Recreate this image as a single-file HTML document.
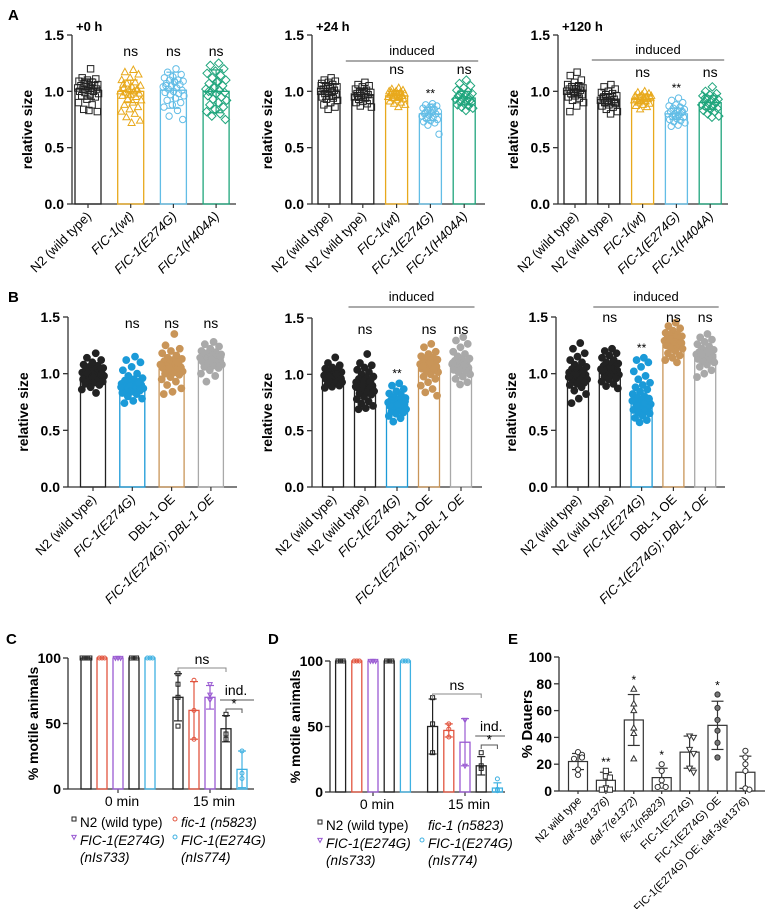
<!DOCTYPE html>
<html><head><meta charset="utf-8"><style>
html,body{margin:0;padding:0;background:#fff;}
svg{display:block;font-family:"Liberation Sans",Arial,sans-serif;}
</style></head><body>
<svg id="fig" width="767" height="909" viewBox="0 0 767 909" xmlns="http://www.w3.org/2000/svg">
<text x="8" y="20" font-size="15" font-weight="bold">A</text>
<text x="8" y="302" font-size="15" font-weight="bold">B</text>
<text x="6" y="644" font-size="15" font-weight="bold">C</text>
<text x="268" y="644" font-size="15" font-weight="bold">D</text>
<text x="508" y="644" font-size="15" font-weight="bold">E</text>
</svg>
<script>
// ---------- DATA ----------
const aLabels3 = ["N2 (wild type)","FIC-1(wt)","FIC-1(E274G)","FIC-1(H404A)"];
const aLabels5 = ["N2 (wild type)","N2 (wild type)","FIC-1(wt)","FIC-1(E274G)","FIC-1(H404A)"];
const bLabels4 = ["N2 (wild type)","FIC-1(E274G)","DBL-1 OE","FIC-1(E274G); DBL-1 OE"];
const bLabels5 = ["N2 (wild type)","N2 (wild type)","FIC-1(E274G)","DBL-1 OE","FIC-1(E274G); DBL-1 OE"];
const sizeTicks = [0.0,0.5,1.0,1.5];

const a1Means = [1.02,1.0,1.01,1.0];
const a1Sd = [0.09,0.1,0.16,0.19];
const a1Sig = ["","ns","ns","ns"];
const a1Vals = [
 [1.2,1.12,1.11,1.1,1.09,1.08,1.07,1.06,1.06,1.05,1.05,1.04,1.03,1.03,1.02,1.02,1.01,1.0,1.0,0.99,0.98,0.97,0.96,0.95,0.93,0.9,0.88,0.84,0.82,0.83],
 [1.19,1.17,1.15,1.12,1.1,1.08,1.07,1.05,1.04,1.03,1.02,1.01,1.0,1.0,0.99,0.98,0.97,0.96,0.95,0.93,0.92,0.9,0.88,0.86,0.84,0.82,0.8,0.77,0.74,0.72,1.06,1.01,0.97],
 [1.2,1.17,1.15,1.13,1.12,1.1,1.1,1.09,1.08,1.07,1.06,1.05,1.04,1.03,1.02,1.01,1.0,0.99,0.98,0.97,0.96,0.94,0.92,0.9,0.88,0.86,0.83,0.78,0.75,1.09,1.05],
 [1.25,1.23,1.2,1.18,1.16,1.14,1.12,1.1,1.09,1.07,1.05,1.03,1.02,1.01,1.0,0.99,0.98,0.96,0.95,0.93,0.92,0.9,0.88,0.86,0.84,0.82,0.8,0.78,0.75,1.08,1.0]
];
const a2Means = [1.0,0.97,0.96,0.8,0.94];
const a2Sd = [0.07,0.05,0.04,0.06,0.06];
const a2Sig = ["","","ns","**","ns"];
const a2Vals = [
 [1.12,1.1,1.09,1.08,1.07,1.06,1.05,1.04,1.03,1.02,1.01,1.0,1.0,0.99,0.98,0.97,0.96,0.95,0.94,0.93,0.92,0.9,0.88,0.86,0.84,1.05,1.0],
 [1.08,1.06,1.05,1.04,1.02,1.01,1.0,0.99,0.98,0.98,0.97,0.96,0.95,0.94,0.93,0.92,0.91,0.9,0.89,0.87,0.86,1.0,0.96],
 [1.03,1.02,1.01,1.0,1.0,0.99,0.98,0.98,0.97,0.97,0.96,0.96,0.95,0.95,0.94,0.93,0.92,0.91,0.9,0.89,0.88,0.86,0.99,0.96],
 [0.89,0.88,0.87,0.86,0.85,0.84,0.83,0.82,0.81,0.8,0.8,0.79,0.78,0.77,0.76,0.75,0.74,0.73,0.72,0.7,0.62,0.86,0.81],
 [1.1,1.07,1.05,1.03,1.01,1.0,0.99,0.98,0.97,0.96,0.95,0.94,0.93,0.92,0.91,0.9,0.89,0.88,0.87,0.86,0.85,0.83,0.96,0.92]
];
const a3Means = [1.01,0.93,0.93,0.8,0.9];
const a3Sd = [0.06,0.05,0.04,0.05,0.06];
const a3Sig = ["","","ns","**","ns"];
const a3Vals = [
 [1.17,1.14,1.1,1.08,1.06,1.05,1.04,1.03,1.02,1.02,1.01,1.0,1.0,0.99,0.98,0.97,0.96,0.95,0.94,0.92,0.9,0.87,0.82,1.03,0.99],
 [1.06,1.04,1.02,1.0,0.99,0.98,0.97,0.96,0.95,0.94,0.93,0.92,0.92,0.91,0.9,0.89,0.88,0.87,0.86,0.84,0.82,0.8,0.95,0.9],
 [1.0,0.99,0.98,0.97,0.96,0.95,0.95,0.94,0.94,0.93,0.93,0.92,0.92,0.91,0.9,0.89,0.88,0.87,0.86,0.84,0.96,0.93],
 [0.94,0.92,0.9,0.88,0.87,0.86,0.85,0.84,0.83,0.82,0.81,0.8,0.8,0.79,0.78,0.77,0.76,0.75,0.74,0.73,0.72,0.7,0.69,0.82,0.78],
 [1.04,1.0,0.98,0.97,0.96,0.95,0.94,0.93,0.92,0.91,0.9,0.89,0.88,0.87,0.86,0.85,0.84,0.83,0.82,0.8,0.78,0.77,0.94,0.9]
];
const b1Means = [0.97,0.89,1.06,1.12];
const b1Sig = ["","ns","ns","ns"];
const b1Vals = [
 [1.18,1.14,1.12,1.1,1.08,1.07,1.06,1.05,1.04,1.03,1.02,1.02,1.01,1.0,1.0,1.0,0.99,0.99,0.98,0.98,0.98,0.97,0.97,0.96,0.96,0.95,0.95,0.94,0.93,0.92,0.91,0.9,0.88,0.86,0.83,1.01,0.99,0.97],
 [1.15,1.12,1.1,1.06,1.03,1.0,0.98,0.96,0.95,0.94,0.93,0.92,0.91,0.91,0.9,0.9,0.89,0.89,0.88,0.88,0.87,0.87,0.86,0.85,0.84,0.83,0.82,0.8,0.78,0.76,0.74,0.92,0.9,0.88],
 [1.35,1.25,1.22,1.2,1.18,1.16,1.14,1.13,1.12,1.11,1.1,1.09,1.08,1.08,1.07,1.06,1.06,1.05,1.04,1.03,1.02,1.01,1.0,0.99,0.97,0.95,0.93,0.9,0.87,0.84,0.82,1.1,1.05,1.08],
 [1.28,1.26,1.24,1.22,1.2,1.19,1.18,1.17,1.16,1.15,1.15,1.14,1.14,1.13,1.13,1.12,1.12,1.11,1.1,1.09,1.08,1.07,1.06,1.05,1.03,1.0,0.98,0.93,1.15,1.12]
];
const b2Means = [0.98,0.9,0.73,1.06,1.06];
const b2Sig = ["","ns","**","ns","ns"];
const b2Vals = [
 [1.15,1.1,1.08,1.06,1.05,1.04,1.03,1.02,1.01,1.0,1.0,0.99,0.99,0.98,0.98,0.97,0.97,0.96,0.95,0.94,0.93,0.92,0.91,0.9,0.89,0.88,1.0,0.98,0.96],
 [1.18,1.1,1.08,1.06,1.04,1.02,1.0,0.98,0.97,0.96,0.95,0.94,0.93,0.92,0.91,0.9,0.89,0.88,0.87,0.86,0.85,0.84,0.83,0.82,0.8,0.78,0.76,0.74,0.72,0.7,0.69,0.93,0.91,0.89],
 [0.92,0.9,0.87,0.85,0.83,0.82,0.8,0.79,0.78,0.77,0.76,0.75,0.75,0.74,0.74,0.73,0.73,0.72,0.71,0.7,0.69,0.68,0.67,0.66,0.65,0.63,0.61,0.58,0.76,0.73,0.72],
 [1.27,1.24,1.2,1.18,1.16,1.15,1.14,1.13,1.12,1.11,1.1,1.1,1.09,1.08,1.08,1.07,1.06,1.05,1.04,1.03,1.02,1.0,0.98,0.96,0.93,0.9,0.87,0.84,0.81,1.1,1.07,1.05],
 [1.33,1.3,1.27,1.24,1.2,1.18,1.16,1.14,1.13,1.12,1.11,1.1,1.09,1.08,1.07,1.06,1.05,1.04,1.03,1.02,1.0,0.98,0.96,0.93,0.91,1.1,1.08]
];
const b3Means = [1.0,1.03,0.78,1.28,1.17];
const b3Sig = ["","ns","**","ns","ns"];
const b3Vals = [
 [1.27,1.22,1.18,1.15,1.12,1.1,1.08,1.06,1.05,1.04,1.03,1.02,1.01,1.0,1.0,0.99,0.99,0.98,0.97,0.96,0.95,0.94,0.93,0.92,0.91,0.9,0.88,0.85,0.82,0.78,0.74,1.02,1.0,0.97],
 [1.22,1.2,1.18,1.16,1.14,1.12,1.1,1.09,1.08,1.07,1.06,1.05,1.04,1.04,1.03,1.03,1.02,1.02,1.01,1.0,0.99,0.98,0.97,0.96,0.95,0.93,0.91,0.89,0.87,1.05,1.03],
 [1.14,1.12,1.1,1.06,1.02,0.98,0.95,0.92,0.9,0.88,0.86,0.84,0.82,0.8,0.79,0.78,0.77,0.76,0.75,0.74,0.73,0.72,0.71,0.7,0.69,0.68,0.67,0.66,0.65,0.63,0.61,0.59,0.57,0.76,0.74,0.72,0.78],
 [1.45,1.42,1.4,1.38,1.36,1.35,1.34,1.33,1.32,1.31,1.3,1.3,1.29,1.28,1.28,1.27,1.26,1.25,1.24,1.23,1.22,1.2,1.18,1.16,1.14,1.12,1.1,1.3,1.27],
 [1.35,1.32,1.3,1.28,1.26,1.24,1.22,1.21,1.2,1.19,1.18,1.18,1.17,1.17,1.16,1.15,1.14,1.13,1.12,1.11,1.1,1.08,1.06,1.03,1.0,0.97,1.19,1.17]
];

// C & D
const timeLabels = ["0 min","15 min"];
const cMeans = [[100,100,100,100,100],[70,60,70,46,15]];
const cSd = [[0,0,0,0,0],[18,22,9,10,14]];
const cPts = [[[100,100,100,100],[100,100,100],[100,100,100],[100,100,100],[100,100,100]],
              [[88,80,70,48],[83,60,38],[80,72,68],[57,42,38],[29,12,8]]];
const dMeans = [[100,100,100,100,100],[50,47,38,20,3]];
const dSd = [[0,0,0,0,0],[21,5,18,7,4]];
const dPts = [[[100,100,100],[100,100,100],[100,100,100],[100,100,100],[100,100,100]],
              [[72,52,30],[52,48,42],[55,55,20],[30,20,18],[10,2,1]]];
const motileTicks = [0,50,100];

// E
const eLabels = ["N2 wild type","daf-3(e1376)","daf-7(e1372)","fic-1(n5823)","FIC-1(E274G)","FIC-1(E274G) OE","FIC-1(E274G) OE; daf-3(e1376)"];
const eMeans = [22,8,53,10,29,49,14];
const eSd = [6,6,19,7,12,18,12];
const eSig = ["","**","*","*","","*",""];
const ePts = [[29,27,25,24,16,12],[15,11,10,2,1,1],[76,65,60,47,43,24],[20,15,8,4,3,3],[41,40,31,28,17,14],[72,62,53,45,36,25],[30,25,20,15,2,1]];
const eTicks = [0,20,40,60,80,100];

// ---------- DRAWING ----------
const NS = "http://www.w3.org/2000/svg";
const svg = document.getElementById('fig');
function el(tag, attrs, parent){
  const e = document.createElementNS(NS, tag);
  for (const k in attrs) e.setAttribute(k, attrs[k]);
  (parent||svg).appendChild(e);
  return e;
}
function txt(x,y,s,attrs,parent){ const t = el('text', Object.assign({x:x,y:y},attrs||{}), parent); t.textContent = s; return t; }

function marker(g, shape, x, y, r, color, fill){
  let m;
  if (shape==='square') m = el('rect',{x:x-r,y:y-r,width:2*r,height:2*r},g);
  else if (shape==='circle') m = el('circle',{cx:x,cy:y,r:r},g);
  else if (shape==='tri') m = el('polygon',{points:`${x},${y-r*1.2} ${x-r*1.1},${y+r*0.8} ${x+r*1.1},${y+r*0.8}`},g);
  else if (shape==='itri') m = el('polygon',{points:`${x},${y+r*1.2} ${x-r*1.1},${y-r*0.8} ${x+r*1.1},${y-r*0.8}`},g);
  else m = el('polygon',{points:`${x},${y-r*1.3} ${x+r*1.3},${y} ${x},${y+r*1.3} ${x-r*1.3},${y}`},g);
  m.setAttribute('fill', fill||'none');
  m.setAttribute('stroke', color);
  m.setAttribute('stroke-width', '1');
  return m;
}
// deterministic jitter layout (positions only)
function jitter(vals, cx, ys, maxOff){
  return vals.map((v,j) => {
    const f = ((j+1)*0.618034) % 1;
    return [cx + (f*2-1)*maxOff, ys(v)];
  });
}
function swarm(vals, cx, ys, s, maxOff){
  const placed = [];
  return vals.map(v => {
    const y = ys(v);
    const k = placed.filter(p => Math.abs(p-y) < s).length;
    placed.push(y);
    const n = Math.floor((k+1)/2), dir = k%2 ? 1 : -1;
    let off = n*s*0.8;
    if (off > maxOff) off = off % (maxOff+0.01);
    return [cx+dir*off, y];
  });
}

function sizePanel(cfg){
  const g = el('g',{});
  
  
  const ys = v => cfg.y0 - (v/1.5)*(cfg.y0-cfg.yTop);
  const xs = i => cfg.first + i*cfg.step;
  const ya = el('line',{x1:cfg.ax,y1:cfg.yTop,x2:cfg.ax,y2:cfg.y0,stroke:'#333','stroke-width':1.3},g);
   
  const xa = el('line',{x1:cfg.ax,y1:cfg.y0,x2:cfg.xEnd,y2:cfg.y0,stroke:'#333','stroke-width':1.3},g);
   
  sizeTicks.forEach(t => {
    el('line',{x1:cfg.ax-5,y1:ys(t),x2:cfg.ax,y2:ys(t),stroke:'#333','stroke-width':1.3},g);
    const tl = txt(cfg.ax-8, ys(t)+5, t.toFixed(1), {'font-size':14,'font-weight':'bold','text-anchor':'end'}, g);
     
  });
  const yt = txt(0,0,'relative size',{'font-size':14,'font-weight':'bold','text-anchor':'middle',transform:`translate(${cfg.ax-40},${(cfg.y0+cfg.yTop)/2+10}) rotate(-90)`},g);
   
  if (cfg.title){ const tt = txt(cfg.ax+4, cfg.yTop-4, cfg.title, {'font-size':13,'font-weight':'bold'}, g);
      }
  if (cfg.induced){
    const x1 = xs(1)-cfg.bw/2-6, x2 = xs(cfg.means.length-1)+cfg.bw/2+3;
    el('line',{x1:x1,y1:cfg.indY,x2:x2,y2:cfg.indY,stroke:'#555','stroke-width':1},g);
    const it = txt((x1+x2)/2, cfg.indY-6, 'induced', {'font-size':13,'text-anchor':'middle'}, g);
     
  }
  cfg.means.forEach((m,i) => {
    const cx = xs(i), c = cfg.colors[i];
    const bar = el('rect',{x:cx-cfg.bw/2,y:ys(m),width:cfg.bw,height:cfg.y0-ys(m),fill:'none',stroke:c,'stroke-width':1.3},g);
     
    el('line',{x1:cx,y1:cfg.y0,x2:cx,y2:cfg.y0+4,stroke:'#333','stroke-width':1.2},g);
    const pts = jitter(cfg.vals[i], cx, ys, cfg.bw/2 - (cfg.filled?1:2));
    pts.forEach(p => {
      const mk = marker(g, cfg.shapes[i], p[0], p[1], cfg.ms, c, cfg.filled ? c : 'none');
       
    });
    if (cfg.sd){
      const a = ys(m+cfg.sd[i]), b = ys(m-cfg.sd[i]);
      el('line',{x1:cx,y1:a,x2:cx,y2:b,stroke:c,'stroke-width':1.2},g);
      el('line',{x1:cx-7,y1:a,x2:cx+7,y2:a,stroke:c,'stroke-width':1.2},g);
      el('line',{x1:cx-7,y1:b,x2:cx+7,y2:b,stroke:c,'stroke-width':1.2},g);
    }
    const s = cfg.sig[i];
    if (s){ const st = txt(cx, s==='ns'?cfg.nsY:ys(Math.max(...cfg.vals[i]))-6, s, {'font-size':s==='ns'?14:12,'text-anchor':'middle'}, g);
        }
    const lbl = cfg.labels[i];
    const lt = txt(0,0,lbl,{'font-size':13,'text-anchor':'end',transform:`translate(${cx+4},${cfg.y0+13}) rotate(-45)`,'font-style':lbl.startsWith('FIC')?'italic':'normal'},g);
     
  });
}

const K='#222', OR='#e8a91c', LB='#62bde6', GR='#1fa57c', BB='#1b9ad8', TN='#c99558', GY='#a9a9a9';
sizePanel({name:'panel-a-0h',title:'+0 h',ax:72,y0:204,yTop:35,xEnd:236,first:88,step:42.7,bw:26,ms:3.2,nsY:56,
  means:a1Means,sd:a1Sd,sig:a1Sig,vals:a1Vals,labels:aLabels3,colors:[K,OR,LB,GR],shapes:['square','tri','circle','diamond']});
sizePanel({name:'panel-a-24h',title:'+24 h',ax:312,y0:204,yTop:35,xEnd:485,first:329,step:33.8,bw:22,ms:3.2,nsY:74,induced:true,indY:61,
  means:a2Means,sd:a2Sd,sig:a2Sig,vals:a2Vals,labels:aLabels5,colors:[K,K,OR,LB,GR],shapes:['square','square','tri','circle','diamond']});
sizePanel({name:'panel-a-120h',title:'+120 h',ax:558,y0:204,yTop:35,xEnd:728,first:575,step:33.8,bw:22,ms:3.2,nsY:77,induced:true,indY:60,
  means:a3Means,sd:a3Sd,sig:a3Sig,vals:a3Vals,labels:aLabels5,colors:[K,K,OR,LB,GR],shapes:['square','square','tri','circle','diamond']});
sizePanel({name:'panel-b-1',ax:68,y0:487,yTop:317,xEnd:237,first:93,step:39.3,bw:25,ms:3.4,nsY:328,filled:true,
  means:b1Means,sig:b1Sig,vals:b1Vals,labels:bLabels4,colors:[K,BB,TN,GY],shapes:['circle','circle','circle','circle']});
sizePanel({name:'panel-b-2',ax:312,y0:487,yTop:318,xEnd:482,first:333,step:32,bw:21,ms:3.4,nsY:334,filled:true,induced:true,indY:307,
  means:b2Means,sig:b2Sig,vals:b2Vals,labels:bLabels5,colors:[K,K,BB,TN,GY],shapes:['circle','circle','circle','circle','circle']});
sizePanel({name:'panel-b-3',ax:556,y0:487,yTop:317,xEnd:725,first:578,step:31.8,bw:21,ms:3.4,nsY:322,filled:true,induced:true,indY:307,
  means:b3Means,sig:b3Sig,vals:b3Vals,labels:bLabels5,colors:[K,K,BB,TN,GY],shapes:['circle','circle','circle','circle','circle']});

// ---- C / D ----
const RD='#e2553f', PU='#9a5bd2', CY='#3fb1e2';
function motilePanel(cfg){
  const g = el('g',{});
  
  
  const ys = v => cfg.y0 - (v/100)*(cfg.y0-cfg.yTop);
  const gx = t => cfg.gc0 + t*cfg.gGap;
  const bx = (t,i) => gx(t) + (i-2)*cfg.step;
  el('line',{x1:cfg.ax,y1:cfg.yTop,x2:cfg.ax,y2:cfg.y0,stroke:'#333','stroke-width':1.3},g);
  el('line',{x1:cfg.ax,y1:cfg.y0,x2:cfg.xEnd,y2:cfg.y0,stroke:'#333','stroke-width':1.3},g);
  motileTicks.forEach(t => {
    el('line',{x1:cfg.ax-5,y1:ys(t),x2:cfg.ax,y2:ys(t),stroke:'#333','stroke-width':1.3},g);
    const tl = txt(cfg.ax-7, ys(t)+5, String(t), {'font-size':14,'font-weight':'bold','text-anchor':'end'}, g);
     
  });
  const yt = txt(0,0,'% motile animals',{'font-size':14,'font-weight':'bold','text-anchor':'middle',transform:`translate(${cfg.ax-30},${(cfg.y0+cfg.yTop)/2}) rotate(-90)`},g);
   
  const cols=[K,RD,PU,K,CY], shapes=['square','circle','itri','square','circle'];
  timeLabels.forEach((lab,t) => {
    el('line',{x1:gx(t),y1:cfg.y0,x2:gx(t),y2:cfg.y0+4,stroke:'#333','stroke-width':1.2},g);
    const xl = txt(gx(t)+4, cfg.y0+17, lab, {'font-size':14,'text-anchor':'middle'}, g);
     
    cfg.means[t].forEach((m,i) => {
      const cx = bx(t,i), c = cols[i];
      const bar = el('rect',{x:cx-cfg.bw/2,y:ys(m),width:cfg.bw,height:cfg.y0-ys(m),fill:'none',stroke:c,'stroke-width':1.3},g);
       
      const sd = cfg.sd[t][i];
      if (sd){
        const a=ys(Math.min(100,m+sd)), b=ys(Math.max(0,m-sd));
        el('line',{x1:cx,y1:a,x2:cx,y2:b,stroke:c,'stroke-width':1.2},g);
        el('line',{x1:cx-4,y1:a,x2:cx+4,y2:a,stroke:c,'stroke-width':1.2},g);
        el('line',{x1:cx-4,y1:b,x2:cx+4,y2:b,stroke:c,'stroke-width':1.2},g);
      }
      const pts = cfg.pts[t][i];
      pts.forEach((p,j) => {
        const off = m===100 ? (j-(pts.length-1)/2)*2.6 : 0;
        const mk = marker(g, shapes[i], cx+off, ys(p), 2, c, 'none');
         
      });
    });
  });
  const nx1 = bx(1,0), nx2 = bx(1,3);
  el('path',{d:`M${nx1},${cfg.nsY+4}V${cfg.nsY}H${nx2}V${cfg.nsY+4}`,fill:'none',stroke:'#888','stroke-width':1},g);
  const nsT = txt((nx1+nx2)/2, cfg.nsY-4, 'ns', {'font-size':14,'text-anchor':'middle'}, g);
   
  el('line',{x1:bx(1,3)-6,y1:cfg.indY,x2:cfg.xEnd,y2:cfg.indY,stroke:'#555','stroke-width':1},g);
  const iT = txt((bx(1,3)+bx(1,4))/2+2, cfg.indY-5, 'ind.', {'font-size':14,'text-anchor':'middle'}, g);
   
  el('path',{d:`M${bx(1,3)},${cfg.indY+13}V${cfg.indY+9}H${bx(1,4)}V${cfg.indY+13}`,fill:'none',stroke:'#555','stroke-width':1},g);
  const sT = txt((bx(1,3)+bx(1,4))/2, cfg.indY+8, '*', {'font-size':13,'text-anchor':'middle'}, g);
   
  const L = cfg.leg;
  const entries = [
    {x:L.x1, y:L.y1, mk:'square', c:K, lines:['N2 (wild type)'], it:false, show:true},
    {x:L.x2, y:L.y1, mk:'circle', c:RD, lines:['fic-1 (n5823)'], it:true, show:cfg.redMarker},
    {x:L.x1, y:L.y2, mk:'itri', c:PU, lines:['FIC-1(E274G)','(nIs733)'], it:true, show:true},
    {x:L.x2, y:L.y2, mk:'circle', c:CY, lines:['FIC-1(E274G)','(nIs774)'], it:true, show:true}
  ];
  entries.forEach(e => {
    const lg = el('g',{},g);
     
    if (e.show) marker(lg, e.mk, e.x-6, e.y-8, 2, e.c, 'none');
    e.lines.forEach((s,k) => txt(e.x, e.y + k*17, s, {'font-size':13.5,'font-style':e.it?'italic':'normal'}, lg));
  });
}
motilePanel({name:'panel-c',ax:68,y0:789,yTop:658,xEnd:254,gc0:118,gGap:92,step:16,bw:10,nsY:668,indY:700,
  means:cMeans,sd:cSd,pts:cPts,leg:{x1:80,x2:181,y1:827,y2:845},redMarker:true});
motilePanel({name:'panel-d',ax:330,y0:792,yTop:661,xEnd:505,gc0:373,gGap:92,step:16.2,bw:10,nsY:694,indY:736,
  means:dMeans,sd:dSd,pts:dPts,leg:{x1:326,x2:428,y1:830,y2:848},redMarker:false});

// ---- E ----
(function(){
  const g = el('g',{});
  
  
  const ax=559, y0=791, yTop=657, xEnd=765, first=578, step=27.9, bw=19;
  const ys = v => y0 - (v/100)*(y0-yTop);
  const xs = i => first + i*step;
  el('line',{x1:ax,y1:yTop,x2:ax,y2:y0,stroke:'#333','stroke-width':1.3},g);
  el('line',{x1:ax,y1:y0,x2:xEnd,y2:y0,stroke:'#333','stroke-width':1.3},g);
  eTicks.forEach(t => {
    el('line',{x1:ax-5,y1:ys(t),x2:ax,y2:ys(t),stroke:'#333','stroke-width':1.3},g);
    const tl = txt(ax-7, ys(t)+5, String(t), {'font-size':14,'font-weight':'bold','text-anchor':'end'}, g);
     
  });
  const yt = txt(0,0,'% Dauers',{'font-size':15,'font-weight':'bold','text-anchor':'middle',transform:`translate(${ax-27},${(y0+yTop)/2}) rotate(-90)`},g);
   
  const shapes=['circle','square','tri','circle','itri','circle','circle'];
  eMeans.forEach((m,i) => {
    const cx = xs(i);
    const bar = el('rect',{x:cx-bw/2,y:ys(m),width:bw,height:y0-ys(m),fill:'none',stroke:'#333','stroke-width':1.2},g);
     
    const a=ys(m+eSd[i]), b=ys(Math.max(0,m-eSd[i]));
    el('line',{x1:cx,y1:a,x2:cx,y2:b,stroke:'#333','stroke-width':1.2},g);
    el('line',{x1:cx-6,y1:a,x2:cx+6,y2:a,stroke:'#333','stroke-width':1.2},g);
    el('line',{x1:cx-6,y1:b,x2:cx+6,y2:b,stroke:'#333','stroke-width':1.2},g);
    const pts = swarm(ePts[i], cx, ys, 5, 8);
    pts.forEach(p => {
      const mk = marker(g, shapes[i], p[0], p[1], 2.6, '#333', i===5?'#777':'#fff');
       
    });
    if (eSig[i]){ const st = txt(cx, ys(Math.max(m+eSd[i], Math.max(...ePts[i])))-5, eSig[i], {'font-size':12,'text-anchor':'middle'}, g);
        }
    el('line',{x1:cx,y1:y0,x2:cx,y2:y0+3,stroke:'#333','stroke-width':1.2},g);
    const lt = txt(0,0,eLabels[i],{'font-size':11,'text-anchor':'end','font-style':i>0&&i<4?'italic':'normal',transform:`translate(${cx+4},${y0+10}) rotate(-45)`},g);
     
  });
})();
</script>
</body></html>
